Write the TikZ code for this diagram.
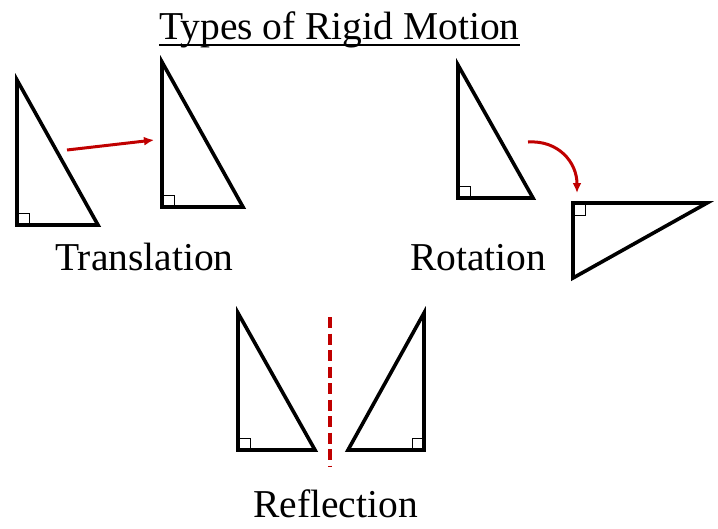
\documentclass[tikz,border=0pt]{standalone}
\usepackage{fontspec}
\setmainfont{Liberation Serif}
\usetikzlibrary{arrows.meta}
\definecolor{arrred}{RGB}{192,0,0}
\begin{document}
\begin{tikzpicture}[x=1pt,y=-1pt,
  tri/.style={line width=3.6pt,line join=miter},
  rightsq/.style={line width=1pt},
  lbl/.style={font=\fontsize{39.5}{44}\selectfont,inner sep=0pt,anchor=base west},
  motion/.style={draw=arrred,line width=3pt,-{Latex[length=10pt,width=9pt]}},
  mirror/.style={draw=arrred,line width=3.2pt,dash pattern=on 11pt off 5.5pt}]
\useasboundingbox (0,0) rectangle (718,528);
% title
\node[lbl] (title) at (159,39) {Types of Rigid Motion};
\draw[line width=2pt] ([yshift=-6pt]title.base west) -- ([yshift=-6pt]title.base east);
% translation
\draw[tri] (17,80) -- (17,225) -- (98,225) -- cycle;
\draw[rightsq] (17,213) -| (29,225);
\draw[tri] (162,62) -- (162,207) -- (243,207) -- cycle;
\draw[rightsq] (162,195) -| (174,207);
\coordinate (t1) at (67,150);
\coordinate (t2) at (154,140);
\draw[motion] (t1) -- (t2);
\node[lbl] (trans) at (55,270) {Translation};
% rotation
\draw[tri] (458,65) -- (458,198) -- (533,198) -- cycle;
\draw[rightsq] (458,186) -| (470,198);
\draw[tri] (573,203) -- (707,203) -- (573,278) -- cycle;
\draw[rightsq] (573,215) -| (585,203);
\coordinate (r1) at (528,142);
\coordinate (r2) at (577,193);
\draw[motion] (r1) .. controls (558,140) and (577,162) .. (r2);
\node[lbl] (rot) at (410,270) {Rotation};
% reflection
\draw[tri] (238,313) -- (238,450) -- (315,450) -- cycle;
\draw[rightsq] (238,438) -| (250,450);
\draw[tri] (424,313) -- (424,450) -- (348,450) -- cycle;
\draw[rightsq] (424,438) -| (412,450);
\coordinate (m1) at (330,317);
\coordinate (m2) at (330,467);
\draw[mirror] (m1) -- (m2);
\node[lbl] (refl) at (253,517) {Reflection};
\end{tikzpicture}
\end{document}
